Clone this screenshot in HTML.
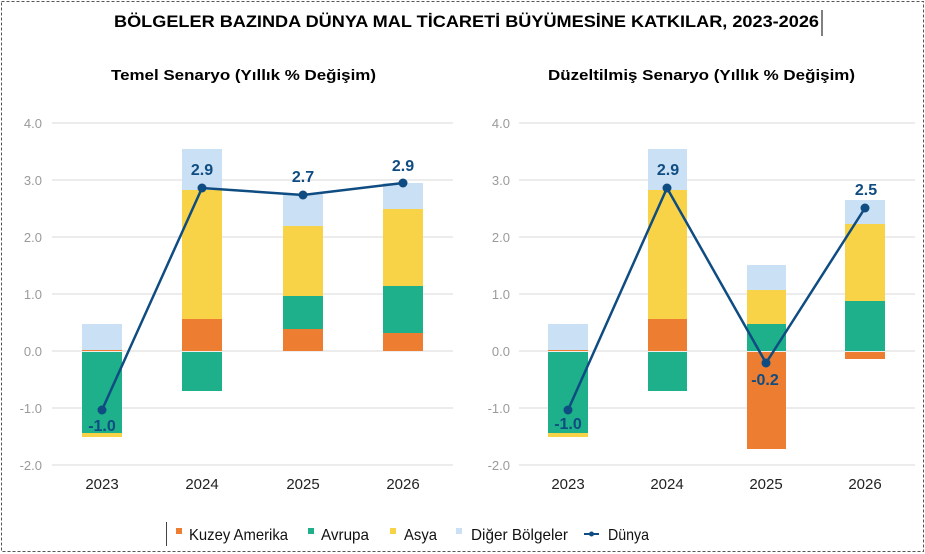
<!DOCTYPE html>
<html><head><meta charset="utf-8"><style>
body{margin:0;background:#fff;}
svg{display:block;}
</style></head><body>
<svg width="925" height="554" xmlns="http://www.w3.org/2000/svg" font-family="Liberation Sans, DejaVu Sans, sans-serif">
<rect x="1.5" y="1.5" width="922" height="550" fill="#fff" stroke="#555" stroke-dasharray="3,2" stroke-width="1"/>
<text x="114" y="27" font-size="17" font-weight="bold" fill="#000" textLength="705" lengthAdjust="spacingAndGlyphs">BÖLGELER BAZINDA DÜNYA MAL TİCARETİ BÜYÜMESİNE KATKILAR, 2023-2026</text>
<line x1="822" y1="10" x2="822" y2="36" stroke="#000" stroke-width="1"/>
<text x="111" y="80" font-size="15" font-weight="bold" fill="#000" textLength="265" lengthAdjust="spacingAndGlyphs">Temel Senaryo (Yıllık % Değişim)</text>
<text x="548" y="80" font-size="15" font-weight="bold" fill="#000" textLength="307" lengthAdjust="spacingAndGlyphs">Düzeltilmiş Senaryo (Yıllık % Değişim)</text>
<g stroke="#e6e6e6" stroke-width="1.5">
<line x1="52" y1="123" x2="453" y2="123"/><line x1="52" y1="180" x2="453" y2="180"/><line x1="52" y1="237" x2="453" y2="237"/><line x1="52" y1="294" x2="453" y2="294"/><line x1="52" y1="351" x2="453" y2="351"/><line x1="52" y1="408" x2="453" y2="408"/><line x1="52" y1="465" x2="453" y2="465"/>
<line x1="519" y1="123" x2="915" y2="123"/><line x1="519" y1="180" x2="915" y2="180"/><line x1="519" y1="237" x2="915" y2="237"/><line x1="519" y1="294" x2="915" y2="294"/><line x1="519" y1="351" x2="915" y2="351"/><line x1="519" y1="408" x2="915" y2="408"/><line x1="519" y1="465" x2="915" y2="465"/>
</g>
<g font-size="13" fill="#9a9a9a" text-anchor="end">
<text x="42" y="128">4.0</text><text x="42" y="185">3.0</text><text x="42" y="242">2.0</text><text x="42" y="299">1.0</text><text x="42" y="356">0.0</text><text x="42" y="413">-1.0</text><text x="42" y="470">-2.0</text>
<text x="510" y="128">4.0</text><text x="510" y="185">3.0</text><text x="510" y="242">2.0</text><text x="510" y="299">1.0</text><text x="510" y="356">0.0</text><text x="510" y="413">-1.0</text><text x="510" y="470">-2.0</text>
</g>
<g font-size="15" fill="#222" text-anchor="middle">
<text x="102" y="489">2023</text><text x="202" y="489">2024</text><text x="303" y="489">2025</text><text x="403" y="489">2026</text>
<text x="568" y="489">2023</text><text x="667" y="489">2024</text><text x="766" y="489">2025</text><text x="865" y="489">2026</text>
</g>
<g>
<rect x="82" y="324" width="40" height="26" fill="#c9e0f5"/><rect x="82" y="350" width="40" height="1" fill="#ed7d31"/><rect x="82" y="352" width="40" height="81" fill="#1db08b"/><rect x="82" y="433" width="40" height="4" fill="#f8d347"/>
<rect x="182" y="149" width="40" height="41" fill="#c9e0f5"/><rect x="182" y="190" width="40" height="129" fill="#f8d347"/><rect x="182" y="319" width="40" height="32" fill="#ed7d31"/><rect x="182" y="352" width="40" height="39" fill="#1db08b"/>
<rect x="283" y="194" width="40" height="32" fill="#c9e0f5"/><rect x="283" y="226" width="40" height="70" fill="#f8d347"/><rect x="283" y="296" width="40" height="33" fill="#1db08b"/><rect x="283" y="329" width="40" height="22" fill="#ed7d31"/>
<rect x="383" y="183" width="40" height="26" fill="#c9e0f5"/><rect x="383" y="209" width="40" height="77" fill="#f8d347"/><rect x="383" y="286" width="40" height="47" fill="#1db08b"/><rect x="383" y="333" width="40" height="18" fill="#ed7d31"/>
</g>
<g>
<rect x="548" y="324" width="40" height="26" fill="#c9e0f5"/><rect x="548" y="350" width="40" height="1" fill="#ed7d31"/><rect x="548" y="352" width="40" height="81" fill="#1db08b"/><rect x="548" y="433" width="40" height="4" fill="#f8d347"/>
<rect x="648" y="149" width="39" height="41" fill="#c9e0f5"/><rect x="648" y="190" width="39" height="129" fill="#f8d347"/><rect x="648" y="319" width="39" height="32" fill="#ed7d31"/><rect x="648" y="352" width="39" height="39" fill="#1db08b"/>
<rect x="747" y="265" width="39" height="25" fill="#c9e0f5"/><rect x="747" y="290" width="39" height="34" fill="#f8d347"/><rect x="747" y="324" width="39" height="27" fill="#1db08b"/><rect x="747" y="352" width="39" height="97" fill="#ed7d31"/>
<rect x="845" y="200" width="40" height="24" fill="#c9e0f5"/><rect x="845" y="224" width="40" height="77" fill="#f8d347"/><rect x="845" y="301" width="40" height="50" fill="#1db08b"/><rect x="845" y="352" width="40" height="7" fill="#ed7d31"/>
</g>
<g stroke="#0f4c81" stroke-width="2.5" fill="none">
<polyline points="102,410 202,188 303,195 403,183"/>
<polyline points="568,410 667,188 766,363 865,208"/>
</g>
<g fill="#0f4c81">
<circle cx="102" cy="410" r="4.5"/><circle cx="202" cy="188" r="4.5"/><circle cx="303" cy="195" r="4.5"/><circle cx="403" cy="183" r="4.5"/>
<circle cx="568" cy="410" r="4.5"/><circle cx="667" cy="188" r="4.5"/><circle cx="766" cy="363" r="4.5"/><circle cx="865" cy="208" r="4.5"/>
</g>
<g font-size="16" font-weight="bold" fill="#0f4c81" text-anchor="middle">
<text x="102" y="431">-1.0</text><text x="202" y="175">2.9</text><text x="303" y="182">2.7</text><text x="403" y="171">2.9</text>
<text x="568" y="429">-1.0</text><text x="668" y="175">2.9</text><text x="765" y="385">-0.2</text><text x="866" y="195">2.5</text>
</g>
<line x1="166.5" y1="522" x2="166.5" y2="546" stroke="#444" stroke-width="1"/>
<rect x="176" y="528" width="6" height="6" fill="#ed7d31"/>
<rect x="308" y="528" width="6" height="6" fill="#1db08b"/>
<rect x="390" y="528" width="6" height="6" fill="#f8d347"/>
<rect x="456" y="528" width="6" height="6" fill="#c9e0f5"/>
<line x1="584" y1="534" x2="599" y2="534" stroke="#0f4c81" stroke-width="2"/><circle cx="591.5" cy="534" r="2.5" fill="#0f4c81"/>
<g font-size="16" fill="#111" lengthAdjust="spacingAndGlyphs">
<text x="189" y="540" textLength="99" lengthAdjust="spacingAndGlyphs">Kuzey Amerika</text><text x="321" y="540" textLength="48" lengthAdjust="spacingAndGlyphs">Avrupa</text><text x="404" y="540" textLength="33" lengthAdjust="spacingAndGlyphs">Asya</text><text x="471" y="540" textLength="97" lengthAdjust="spacingAndGlyphs">Diğer Bölgeler</text><text x="608" y="540" textLength="41" lengthAdjust="spacingAndGlyphs">Dünya</text>
</g>
</svg>
</body></html>
